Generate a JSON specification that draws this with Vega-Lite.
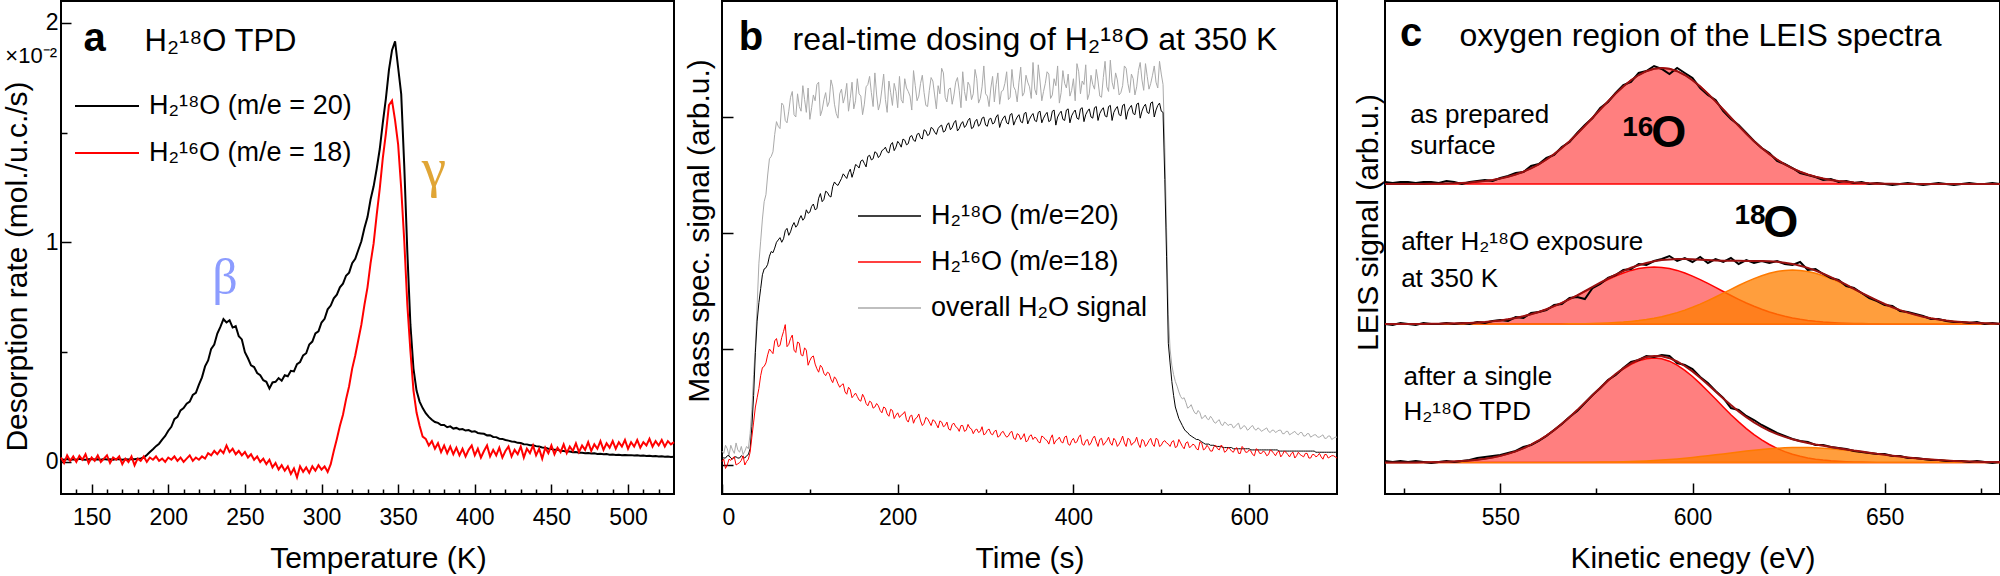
{
"$schema": "https://vega.github.io/schema/vega-lite/v6.json",
"background": "white",
"padding": 0,
"spacing": 48,
"bounds": "flush",
"config": {
  "font": "Liberation Sans",
  "view": {"stroke": "black", "strokeWidth": 2},
  "axis": {"labelFont": "Liberation Sans", "titleFont": "Liberation Sans", "labelFontSize": 23, "titleFontSize": 30, "titleFontWeight": "normal", "labelColor": "black", "titleColor": "black", "tickColor": "black", "tickWidth": 1.5, "domain": false, "grid": false, "labelOverlap": false},
  "legend": {"labelFont": "Liberation Sans", "labelColor": "black"},
  "text": {"font": "Liberation Sans", "color": "black"}
},
"resolve": {"scale": {"color": "independent"}, "legend": {"color": "independent"}},
"datasets": {
"tpd": [
{"T":130,"b":0.012,"r":0.020},{"T":132,"b":0.010,"r":-0.005},{"T":134,"b":0.013,"r":0.030},{"T":136,"b":0.009,"r":0.005},{"T":138,"b":0.012,"r":0.025},{"T":140,"b":0.010,"r":0.000},{"T":142,"b":0.014,"r":0.028},{"T":144,"b":0.011,"r":0.010},{"T":146,"b":0.010,"r":0.035},{"T":148,"b":0.012,"r":-0.005},
{"T":150,"b":0.013,"r":0.020},{"T":152,"b":0.011,"r":0.005},{"T":154,"b":0.012,"r":0.030},{"T":156,"b":0.010,"r":0.000},{"T":158,"b":0.013,"r":0.015},{"T":160,"b":0.011,"r":0.030},{"T":162,"b":0.012,"r":-0.005},{"T":164,"b":0.010,"r":0.020},{"T":166,"b":0.013,"r":0.010},{"T":168,"b":0.012,"r":0.025},
{"T":170,"b":0.010,"r":-0.010},{"T":172,"b":0.012,"r":0.015},{"T":174,"b":0.011,"r":0.000},{"T":176,"b":0.013,"r":0.025},{"T":178,"b":0.012,"r":-0.015},{"T":180,"b":0.014,"r":0.015},{"T":182,"b":0.016,"r":0.005},{"T":184,"b":0.020,"r":0.025},{"T":186,"b":0.032,"r":0.000},{"T":188,"b":0.045,"r":0.020},
{"T":190,"b":0.058,"r":0.010},{"T":192,"b":0.072,"r":0.025},{"T":194,"b":0.083,"r":0.005},{"T":196,"b":0.102,"r":0.015},{"T":198,"b":0.118,"r":0.000},{"T":200,"b":0.142,"r":0.020},{"T":202,"b":0.160,"r":0.010},{"T":204,"b":0.195,"r":0.025},{"T":206,"b":0.205,"r":0.005},{"T":208,"b":0.235,"r":0.020},
{"T":210,"b":0.245,"r":0.000},{"T":212,"b":0.265,"r":0.015},{"T":214,"b":0.275,"r":0.030},{"T":216,"b":0.305,"r":0.005},{"T":218,"b":0.315,"r":0.020},{"T":220,"b":0.352,"r":0.010},{"T":222,"b":0.385,"r":0.025},{"T":224,"b":0.435,"r":0.015},{"T":226,"b":0.462,"r":0.040},{"T":228,"b":0.515,"r":0.030},
{"T":230,"b":0.535,"r":0.050},{"T":232,"b":0.585,"r":0.035},{"T":234,"b":0.615,"r":0.055},{"T":236,"b":0.650,"r":0.040},{"T":238,"b":0.635,"r":0.075},{"T":240,"b":0.645,"r":0.045},{"T":242,"b":0.612,"r":0.060},{"T":244,"b":0.618,"r":0.035},{"T":246,"b":0.572,"r":0.050},{"T":248,"b":0.558,"r":0.030},
{"T":250,"b":0.500,"r":0.045},{"T":252,"b":0.472,"r":0.020},{"T":254,"b":0.440,"r":0.035},{"T":256,"b":0.432,"r":0.010},{"T":258,"b":0.405,"r":0.025},{"T":260,"b":0.395,"r":0.000},{"T":262,"b":0.372,"r":0.015},{"T":264,"b":0.365,"r":-0.010},{"T":266,"b":0.335,"r":0.010},{"T":268,"b":0.362,"r":-0.025},
{"T":270,"b":0.365,"r":-0.005},{"T":272,"b":0.382,"r":-0.035},{"T":274,"b":0.370,"r":-0.015},{"T":276,"b":0.395,"r":-0.040},{"T":278,"b":0.390,"r":-0.020},{"T":280,"b":0.415,"r":-0.055},{"T":282,"b":0.412,"r":-0.030},{"T":284,"b":0.445,"r":-0.070},{"T":286,"b":0.455,"r":-0.020},{"T":288,"b":0.485,"r":-0.045},
{"T":290,"b":0.495,"r":-0.025},{"T":292,"b":0.535,"r":-0.050},{"T":294,"b":0.548,"r":-0.020},{"T":296,"b":0.585,"r":-0.040},{"T":298,"b":0.595,"r":-0.015},{"T":300,"b":0.635,"r":-0.035},{"T":302,"b":0.652,"r":-0.020},{"T":304,"b":0.695,"r":-0.045},{"T":306,"b":0.712,"r":-0.010},{"T":308,"b":0.745,"r":0.050},
{"T":310,"b":0.762,"r":0.105},{"T":312,"b":0.795,"r":0.165},{"T":314,"b":0.812,"r":0.215},{"T":316,"b":0.848,"r":0.285},{"T":318,"b":0.862,"r":0.345},{"T":320,"b":0.905,"r":0.425},{"T":322,"b":0.925,"r":0.485},{"T":324,"b":0.965,"r":0.555},{"T":326,"b":1.005,"r":0.625},{"T":328,"b":1.065,"r":0.715},
{"T":330,"b":1.115,"r":0.795},{"T":332,"b":1.195,"r":0.905},{"T":334,"b":1.255,"r":0.995},{"T":336,"b":1.335,"r":1.125},{"T":338,"b":1.425,"r":1.245},{"T":340,"b":1.545,"r":1.385},{"T":342,"b":1.655,"r":1.495},{"T":344,"b":1.785,"r":1.625},{"T":346,"b":1.875,"r":1.645},{"T":348,"b":1.915,"r":1.555},
{"T":350,"b":1.795,"r":1.445},{"T":352,"b":1.675,"r":1.245},{"T":354,"b":1.345,"r":1.005},{"T":356,"b":0.955,"r":0.715},{"T":358,"b":0.625,"r":0.505},{"T":360,"b":0.425,"r":0.325},{"T":362,"b":0.325,"r":0.225},{"T":364,"b":0.275,"r":0.165},{"T":366,"b":0.245,"r":0.115},{"T":368,"b":0.222,"r":0.105},
{"T":370,"b":0.205,"r":0.075},{"T":372,"b":0.192,"r":0.095},{"T":374,"b":0.182,"r":0.060},{"T":376,"b":0.178,"r":0.085},{"T":378,"b":0.168,"r":0.045},{"T":380,"b":0.168,"r":0.075},{"T":382,"b":0.158,"r":0.040},{"T":384,"b":0.162,"r":0.070},{"T":386,"b":0.152,"r":0.035},{"T":388,"b":0.155,"r":0.065},
{"T":390,"b":0.148,"r":0.030},{"T":392,"b":0.150,"r":0.060},{"T":394,"b":0.143,"r":0.025},{"T":396,"b":0.145,"r":0.055},{"T":398,"b":0.138,"r":0.075},{"T":400,"b":0.140,"r":0.030},{"T":402,"b":0.132,"r":0.060},{"T":404,"b":0.130,"r":0.020},{"T":406,"b":0.128,"r":0.050},{"T":408,"b":0.121,"r":0.075},
{"T":410,"b":0.122,"r":0.025},{"T":412,"b":0.114,"r":0.055},{"T":414,"b":0.113,"r":0.030},{"T":416,"b":0.106,"r":0.065},{"T":418,"b":0.105,"r":0.020},{"T":420,"b":0.100,"r":0.050},{"T":422,"b":0.097,"r":0.070},{"T":424,"b":0.093,"r":0.025},{"T":426,"b":0.092,"r":0.055},{"T":428,"b":0.087,"r":0.035},
{"T":430,"b":0.086,"r":0.070},{"T":432,"b":0.081,"r":0.020},{"T":434,"b":0.080,"r":0.060},{"T":436,"b":0.076,"r":0.040},{"T":438,"b":0.076,"r":0.075},{"T":440,"b":0.072,"r":0.030},{"T":442,"b":0.070,"r":0.060},{"T":444,"b":0.066,"r":0.015},{"T":446,"b":0.065,"r":0.065},{"T":448,"b":0.060,"r":0.040},
{"T":450,"b":0.059,"r":0.075},{"T":452,"b":0.055,"r":0.035},{"T":454,"b":0.055,"r":0.065},{"T":456,"b":0.051,"r":0.045},{"T":458,"b":0.050,"r":0.080},{"T":460,"b":0.047,"r":0.040},{"T":462,"b":0.047,"r":0.070},{"T":464,"b":0.044,"r":0.050},{"T":466,"b":0.045,"r":0.085},{"T":468,"b":0.042,"r":0.045},
{"T":470,"b":0.042,"r":0.075},{"T":472,"b":0.040,"r":0.055},{"T":474,"b":0.041,"r":0.090},{"T":476,"b":0.038,"r":0.050},{"T":478,"b":0.039,"r":0.080},{"T":480,"b":0.036,"r":0.060},{"T":482,"b":0.037,"r":0.095},{"T":484,"b":0.035,"r":0.055},{"T":486,"b":0.036,"r":0.085},{"T":488,"b":0.033,"r":0.065},
{"T":490,"b":0.034,"r":0.095},{"T":492,"b":0.032,"r":0.060},{"T":494,"b":0.033,"r":0.090},{"T":496,"b":0.031,"r":0.070},{"T":498,"b":0.032,"r":0.100},{"T":500,"b":0.030,"r":0.060},{"T":502,"b":0.031,"r":0.090},{"T":504,"b":0.029,"r":0.070},{"T":506,"b":0.030,"r":0.100},{"T":508,"b":0.028,"r":0.065},
{"T":510,"b":0.029,"r":0.090},{"T":512,"b":0.027,"r":0.075},{"T":514,"b":0.028,"r":0.105},{"T":516,"b":0.026,"r":0.070},{"T":518,"b":0.027,"r":0.095},{"T":520,"b":0.025,"r":0.075},{"T":522,"b":0.026,"r":0.100},{"T":524,"b":0.024,"r":0.070},{"T":526,"b":0.025,"r":0.095},{"T":528,"b":0.023,"r":0.080},{"T":530,"b":0.024,"r":0.090}
],
"dose": [
{"t":0,"g":0.12,"k":0.07,"r":0.03},{"t":4,"g":0.17,"k":0.06,"r":-0.03},{"t":8,"g":0.08,"k":0.08,"r":0.05},{"t":12,"g":0.13,"k":0.05,"r":0.06},{"t":16,"g":0.19,"k":0.07,"r":0.00},{"t":20,"g":0.11,"k":0.06,"r":0.02},{"t":24,"g":0.09,"k":0.07,"r":0.08},{"t":28,"g":0.16,"k":0.08,"r":0.03},
{"t":32,"g":0.27,"k":0.14,"r":0.11},{"t":36,"g":0.78,"k":0.60,"r":0.37},{"t":40,"g":1.38,"k":1.24,"r":0.58},{"t":44,"g":1.93,"k":1.52,"r":0.77},{"t":48,"g":2.27,"k":1.69,"r":0.85},{"t":52,"g":2.50,"k":1.73,"r":0.95},{"t":56,"g":2.66,"k":1.84,"r":0.98},{"t":60,"g":2.85,"k":1.87,"r":1.07},
{"t":64,"g":2.92,"k":1.94,"r":1.02},{"t":68,"g":3.12,"k":1.92,"r":1.10},{"t":72,"g":2.97,"k":2.02,"r":1.21},{"t":76,"g":3.05,"k":1.98,"r":1.04},{"t":80,"g":3.22,"k":2.06,"r":1.12},{"t":84,"g":3.00,"k":2.05,"r":0.97},{"t":88,"g":3.09,"k":2.12,"r":1.05},{"t":92,"g":3.27,"k":2.11,"r":0.94},
{"t":96,"g":3.04,"k":2.20,"r":0.99},{"t":100,"g":2.98,"k":2.18,"r":0.90},{"t":104,"g":3.19,"k":2.25,"r":0.94},{"t":108,"g":3.28,"k":2.21,"r":0.83},{"t":112,"g":3.01,"k":2.34,"r":0.86},{"t":116,"g":3.15,"k":2.29,"r":0.79},{"t":120,"g":3.09,"k":2.35,"r":0.80},{"t":124,"g":3.32,"k":2.31,"r":0.74},
{"t":128,"g":3.11,"k":2.44,"r":0.76},{"t":132,"g":2.99,"k":2.41,"r":0.70},{"t":136,"g":3.24,"k":2.47,"r":0.69},{"t":140,"g":3.18,"k":2.49,"r":0.63},{"t":144,"g":3.05,"k":2.52,"r":0.67},{"t":148,"g":3.30,"k":2.48,"r":0.58},{"t":152,"g":3.14,"k":2.59,"r":0.62},{"t":156,"g":3.20,"k":2.56,"r":0.56},
{"t":160,"g":3.02,"k":2.63,"r":0.61},{"t":164,"g":3.26,"k":2.57,"r":0.53},{"t":168,"g":3.35,"k":2.67,"r":0.55},{"t":172,"g":3.09,"k":2.64,"r":0.49},{"t":176,"g":3.19,"k":2.69,"r":0.53},{"t":180,"g":3.12,"k":2.67,"r":0.47},{"t":184,"g":3.37,"k":2.72,"r":0.50},{"t":188,"g":3.04,"k":2.70,"r":0.44},
{"t":192,"g":3.21,"k":2.76,"r":0.48},{"t":196,"g":3.29,"k":2.71,"r":0.40},{"t":200,"g":3.08,"k":2.79,"r":0.45},{"t":204,"g":3.15,"k":2.74,"r":0.43},{"t":208,"g":3.33,"k":2.80,"r":0.46},{"t":212,"g":3.22,"k":2.77,"r":0.37},{"t":216,"g":3.06,"k":2.84,"r":0.43},{"t":220,"g":3.27,"k":2.79,"r":0.40},
{"t":224,"g":3.18,"k":2.86,"r":0.44},{"t":228,"g":3.36,"k":2.81,"r":0.34},{"t":232,"g":3.10,"k":2.88,"r":0.41},{"t":236,"g":3.23,"k":2.85,"r":0.37},{"t":240,"g":3.31,"k":2.90,"r":0.39},{"t":244,"g":3.07,"k":2.85,"r":0.35},{"t":248,"g":3.20,"k":2.92,"r":0.38},{"t":252,"g":3.38,"k":2.87,"r":0.33},
{"t":256,"g":3.13,"k":2.93,"r":0.37},{"t":260,"g":3.25,"k":2.89,"r":0.30},{"t":264,"g":3.19,"k":2.95,"r":0.36},{"t":268,"g":3.34,"k":2.88,"r":0.32},{"t":272,"g":3.08,"k":2.94,"r":0.34},{"t":276,"g":3.22,"k":2.91,"r":0.29},{"t":280,"g":3.30,"k":2.97,"r":0.35},{"t":284,"g":3.15,"k":2.90,"r":0.31},
{"t":288,"g":3.41,"k":2.96,"r":0.30},{"t":292,"g":3.12,"k":2.92,"r":0.28},{"t":296,"g":3.26,"k":2.99,"r":0.33},{"t":300,"g":3.20,"k":2.93,"r":0.27},{"t":304,"g":3.09,"k":2.98,"r":0.31},{"t":308,"g":3.35,"k":2.94,"r":0.26},{"t":312,"g":3.28,"k":3.00,"r":0.30},{"t":316,"g":3.11,"k":2.91,"r":0.25},
{"t":320,"g":3.23,"k":2.99,"r":0.29},{"t":324,"g":3.39,"k":2.95,"r":0.24},{"t":328,"g":3.17,"k":3.02,"r":0.28},{"t":332,"g":3.26,"k":2.93,"r":0.23},{"t":336,"g":3.13,"k":3.00,"r":0.27},{"t":340,"g":3.43,"k":2.96,"r":0.22},{"t":344,"g":3.21,"k":3.03,"r":0.27},{"t":348,"g":3.30,"k":2.94,"r":0.21},
{"t":352,"g":3.16,"k":3.01,"r":0.26},{"t":356,"g":3.24,"k":2.97,"r":0.24},{"t":360,"g":3.45,"k":3.04,"r":0.20},{"t":364,"g":3.14,"k":2.95,"r":0.25},{"t":368,"g":3.29,"k":3.02,"r":0.22},{"t":372,"g":3.37,"k":2.96,"r":0.18},{"t":376,"g":3.19,"k":3.05,"r":0.26},{"t":380,"g":3.27,"k":2.93,"r":0.21},
{"t":384,"g":3.12,"k":3.03,"r":0.24},{"t":388,"g":3.40,"k":2.98,"r":0.19},{"t":392,"g":3.25,"k":3.06,"r":0.25},{"t":396,"g":3.18,"k":2.95,"r":0.17},{"t":400,"g":3.33,"k":3.04,"r":0.23},{"t":404,"g":3.46,"k":2.99,"r":0.20},{"t":408,"g":3.20,"k":3.07,"r":0.26},{"t":412,"g":3.28,"k":2.96,"r":0.17},
{"t":416,"g":3.15,"k":3.05,"r":0.22},{"t":420,"g":3.36,"k":3.00,"r":0.19},{"t":424,"g":3.24,"k":3.08,"r":0.25},{"t":428,"g":3.31,"k":2.97,"r":0.16},{"t":432,"g":3.17,"k":3.06,"r":0.23},{"t":436,"g":3.48,"k":3.01,"r":0.19},{"t":440,"g":3.22,"k":3.09,"r":0.24},{"t":444,"g":3.30,"k":2.97,"r":0.17},
{"t":448,"g":3.38,"k":3.07,"r":0.21},{"t":452,"g":3.19,"k":3.02,"r":0.18},{"t":456,"g":3.27,"k":3.10,"r":0.25},{"t":460,"g":3.42,"k":2.98,"r":0.16},{"t":464,"g":3.21,"k":3.08,"r":0.22},{"t":468,"g":3.33,"k":3.03,"r":0.19},{"t":472,"g":3.26,"k":3.11,"r":0.24},{"t":476,"g":3.47,"k":2.99,"r":0.15},
{"t":480,"g":3.23,"k":3.09,"r":0.21},{"t":484,"g":3.35,"k":3.04,"r":0.18},{"t":488,"g":3.29,"k":3.12,"r":0.23},{"t":492,"g":3.44,"k":3.00,"r":0.16},{"t":496,"g":3.25,"k":3.10,"r":0.22},{"t":500,"g":3.37,"k":3.05,"r":0.17},{"t":504,"g":2.74,"k":2.46,"r":0.21},{"t":508,"g":1.30,"k":1.05,"r":0.18},
{"t":512,"g":0.86,"k":0.72,"r":0.20},{"t":516,"g":0.72,"k":0.50,"r":0.15},{"t":520,"g":0.63,"k":0.40,"r":0.22},{"t":524,"g":0.57,"k":0.34,"r":0.16},{"t":528,"g":0.54,"k":0.29,"r":0.19},{"t":532,"g":0.50,"k":0.26,"r":0.15},{"t":536,"g":0.48,"k":0.24,"r":0.18},{"t":540,"g":0.44,"k":0.22,"r":0.14},
{"t":544,"g":0.45,"k":0.21,"r":0.20},{"t":548,"g":0.41,"k":0.19,"r":0.13},{"t":552,"g":0.40,"k":0.18,"r":0.17},{"t":556,"g":0.42,"k":0.17,"r":0.12},{"t":560,"g":0.37,"k":0.17,"r":0.16},{"t":564,"g":0.38,"k":0.16,"r":0.14},{"t":568,"g":0.35,"k":0.16,"r":0.17},{"t":572,"g":0.37,"k":0.15,"r":0.11},
{"t":576,"g":0.34,"k":0.15,"r":0.15},{"t":580,"g":0.35,"k":0.15,"r":0.12},{"t":584,"g":0.33,"k":0.14,"r":0.14},{"t":588,"g":0.36,"k":0.14,"r":0.10},{"t":592,"g":0.32,"k":0.14,"r":0.16},{"t":596,"g":0.33,"k":0.14,"r":0.11},{"t":600,"g":0.31,"k":0.14,"r":0.13},{"t":604,"g":0.34,"k":0.13,"r":0.09},
{"t":608,"g":0.30,"k":0.13,"r":0.14},{"t":612,"g":0.31,"k":0.13,"r":0.10},{"t":616,"g":0.30,"k":0.13,"r":0.12},{"t":620,"g":0.32,"k":0.13,"r":0.08},{"t":624,"g":0.28,"k":0.13,"r":0.13},{"t":628,"g":0.30,"k":0.13,"r":0.10},{"t":632,"g":0.29,"k":0.13,"r":0.11},{"t":636,"g":0.30,"k":0.12,"r":0.07},
{"t":640,"g":0.27,"k":0.12,"r":0.12},{"t":644,"g":0.29,"k":0.12,"r":0.09},{"t":648,"g":0.27,"k":0.12,"r":0.10},{"t":652,"g":0.29,"k":0.12,"r":0.06},{"t":656,"g":0.26,"k":0.12,"r":0.11},{"t":660,"g":0.28,"k":0.12,"r":0.08},{"t":664,"g":0.25,"k":0.12,"r":0.10},{"t":668,"g":0.27,"k":0.12,"r":0.06},
{"t":672,"g":0.25,"k":0.12,"r":0.09},{"t":676,"g":0.26,"k":0.11,"r":0.07},{"t":680,"g":0.24,"k":0.11,"r":0.10},{"t":684,"g":0.26,"k":0.11,"r":0.05},{"t":688,"g":0.23,"k":0.11,"r":0.09},{"t":692,"g":0.25,"k":0.11,"r":0.07},{"t":696,"g":0.23,"k":0.11,"r":0.08},{"t":700,"g":0.24,"k":0.11,"r":0.06},
{"t":2,"g":0.10,"k":0.06,"r":0.05},{"t":6,"g":0.14,"k":0.08,"r":0.00},{"t":10,"g":0.17,"k":0.06,"r":0.04},{"t":14,"g":0.10,"k":0.07,"r":0.07},{"t":18,"g":0.13,"k":0.06,"r":0.01},{"t":22,"g":0.16,"k":0.08,"r":0.04},{"t":26,"g":0.12,"k":0.06,"r":0.00},{"t":30,"g":0.14,"k":0.09,"r":0.05},
{"t":34,"g":0.48,"k":0.33,"r":0.24},{"t":38,"g":1.02,"k":0.97,"r":0.50},{"t":42,"g":1.74,"k":1.40,"r":0.66},{"t":46,"g":2.12,"k":1.64,"r":0.84},{"t":50,"g":2.33,"k":1.70,"r":0.88},{"t":54,"g":2.64,"k":1.80,"r":1.00},{"t":58,"g":2.70,"k":1.83,"r":0.96},{"t":62,"g":2.96,"k":1.92,"r":1.09},
{"t":66,"g":2.90,"k":1.96,"r":1.03},{"t":70,"g":3.10,"k":1.95,"r":1.15},{"t":74,"g":2.95,"k":2.04,"r":1.02},{"t":78,"g":3.17,"k":2.01,"r":1.09},{"t":82,"g":3.02,"k":2.09,"r":0.99},{"t":86,"g":3.20,"k":2.07,"r":1.06},{"t":90,"g":3.05,"k":2.15,"r":0.95},{"t":94,"g":3.15,"k":2.13,"r":1.01},
{"t":98,"g":3.25,"k":2.17,"r":0.86},{"t":102,"g":3.08,"k":2.23,"r":0.93},{"t":106,"g":3.14,"k":2.20,"r":0.87},{"t":110,"g":3.30,"k":2.30,"r":0.80},{"t":114,"g":3.06,"k":2.27,"r":0.84},{"t":118,"g":3.21,"k":2.36,"r":0.77},{"t":122,"g":3.13,"k":2.32,"r":0.79},{"t":126,"g":3.26,"k":2.40,"r":0.71},
{"t":130,"g":3.03,"k":2.42,"r":0.74},{"t":134,"g":3.20,"k":2.44,"r":0.67},{"t":138,"g":3.12,"k":2.51,"r":0.70},{"t":142,"g":3.29,"k":2.47,"r":0.61},{"t":146,"g":3.16,"k":2.55,"r":0.65},{"t":150,"g":3.07,"k":2.53,"r":0.60},{"t":154,"g":3.33,"k":2.58,"r":0.59},{"t":158,"g":3.18,"k":2.62,"r":0.55},
{"t":162,"g":3.11,"k":2.60,"r":0.58},{"t":166,"g":3.28,"k":2.66,"r":0.51},{"t":170,"g":3.21,"k":2.63,"r":0.54},{"t":174,"g":3.38,"k":2.70,"r":0.50},{"t":178,"g":3.06,"k":2.65,"r":0.51},{"t":182,"g":3.24,"k":2.71,"r":0.45},{"t":186,"g":3.15,"k":2.74,"r":0.49},{"t":190,"g":3.31,"k":2.69,"r":0.42},
{"t":194,"g":3.10,"k":2.78,"r":0.47},{"t":198,"g":3.22,"k":2.74,"r":0.43},{"t":202,"g":3.35,"k":2.77,"r":0.41},{"t":206,"g":3.12,"k":2.81,"r":0.44},{"t":210,"g":3.25,"k":2.76,"r":0.39},{"t":214,"g":3.18,"k":2.83,"r":0.42},{"t":218,"g":3.40,"k":2.80,"r":0.36},{"t":222,"g":3.14,"k":2.85,"r":0.41},
{"t":226,"g":3.29,"k":2.82,"r":0.38},{"t":230,"g":3.21,"k":2.89,"r":0.36},{"t":234,"g":3.09,"k":2.84,"r":0.40},{"t":238,"g":3.34,"k":2.91,"r":0.34},{"t":242,"g":3.19,"k":2.87,"r":0.38},{"t":246,"g":3.27,"k":2.90,"r":0.32},{"t":250,"g":3.42,"k":2.93,"r":0.37},{"t":254,"g":3.17,"k":2.88,"r":0.34},
{"t":258,"g":3.24,"k":2.95,"r":0.31},{"t":262,"g":3.11,"k":2.91,"r":0.35},{"t":266,"g":3.30,"k":2.97,"r":0.33},{"t":270,"g":3.23,"k":2.90,"r":0.29},{"t":274,"g":3.39,"k":2.96,"r":0.34},{"t":278,"g":3.14,"k":2.93,"r":0.30},{"t":282,"g":3.27,"k":2.99,"r":0.32},{"t":286,"g":3.20,"k":2.91,"r":0.27},
{"t":290,"g":3.33,"k":2.98,"r":0.31},{"t":294,"g":3.16,"k":2.94,"r":0.29},{"t":298,"g":3.44,"k":3.00,"r":0.26},{"t":302,"g":3.18,"k":2.92,"r":0.30},{"t":306,"g":3.25,"k":2.99,"r":0.27},{"t":310,"g":3.13,"k":2.95,"r":0.29},{"t":314,"g":3.38,"k":3.02,"r":0.24},{"t":318,"g":3.22,"k":2.96,"r":0.28},
{"t":322,"g":3.29,"k":3.01,"r":0.26},{"t":326,"g":3.15,"k":2.94,"r":0.25},{"t":330,"g":3.41,"k":3.03,"r":0.29},{"t":334,"g":3.23,"k":2.97,"r":0.22},{"t":338,"g":3.30,"k":3.02,"r":0.26},{"t":342,"g":3.18,"k":2.95,"r":0.24},{"t":346,"g":3.36,"k":3.04,"r":0.20},{"t":350,"g":3.26,"k":2.98,"r":0.25},
{"t":354,"g":3.47,"k":3.03,"r":0.22},{"t":358,"g":3.19,"k":2.96,"r":0.23},{"t":362,"g":3.31,"k":3.05,"r":0.19},{"t":366,"g":3.22,"k":2.99,"r":0.24},{"t":370,"g":3.39,"k":3.04,"r":0.21},{"t":374,"g":3.16,"k":2.97,"r":0.23},{"t":378,"g":3.33,"k":3.06,"r":0.18},{"t":382,"g":3.44,"k":3.00,"r":0.22},
{"t":386,"g":3.21,"k":3.05,"r":0.20},{"t":390,"g":3.29,"k":2.97,"r":0.24},{"t":394,"g":3.37,"k":3.07,"r":0.18},{"t":398,"g":3.23,"k":3.01,"r":0.21},{"t":402,"g":3.14,"k":3.06,"r":0.19},{"t":406,"g":3.39,"k":2.98,"r":0.24},{"t":410,"g":3.31,"k":3.08,"r":0.18},{"t":414,"g":3.45,"k":3.02,"r":0.21},
{"t":418,"g":3.20,"k":3.07,"r":0.17},{"t":422,"g":3.28,"k":2.99,"r":0.23},{"t":426,"g":3.41,"k":3.09,"r":0.20},{"t":430,"g":3.18,"k":3.03,"r":0.22},{"t":434,"g":3.34,"k":3.08,"r":0.17},{"t":438,"g":3.26,"k":3.00,"r":0.21},{"t":442,"g":3.49,"k":3.10,"r":0.19},{"t":446,"g":3.24,"k":3.04,"r":0.23},
{"t":450,"g":3.32,"k":3.09,"r":0.16},{"t":454,"g":3.21,"k":3.01,"r":0.21},{"t":458,"g":3.44,"k":3.11,"r":0.19},{"t":462,"g":3.29,"k":3.05,"r":0.23},{"t":466,"g":3.37,"k":3.10,"r":0.17},{"t":470,"g":3.19,"k":3.02,"r":0.20},{"t":474,"g":3.40,"k":3.12,"r":0.18},{"t":478,"g":3.32,"k":3.05,"r":0.22},
{"t":482,"g":3.46,"k":3.11,"r":0.16},{"t":486,"g":3.24,"k":3.03,"r":0.21},{"t":490,"g":3.36,"k":3.13,"r":0.18},{"t":494,"g":3.30,"k":3.06,"r":0.23},{"t":498,"g":3.48,"k":3.12,"r":0.16},{"t":502,"g":3.28,"k":3.04,"r":0.20},{"t":506,"g":2.05,"k":1.80,"r":0.19},{"t":510,"g":1.00,"k":0.88,"r":0.16},
{"t":514,"g":0.78,"k":0.60,"r":0.21},{"t":518,"g":0.68,"k":0.45,"r":0.16},{"t":522,"g":0.59,"k":0.37,"r":0.19},{"t":526,"g":0.58,"k":0.31,"r":0.14},{"t":530,"g":0.49,"k":0.28,"r":0.20},{"t":534,"g":0.52,"k":0.25,"r":0.16},{"t":538,"g":0.45,"k":0.23,"r":0.17},{"t":542,"g":0.47,"k":0.22,"r":0.13},
{"t":546,"g":0.40,"k":0.20,"r":0.19},{"t":550,"g":0.43,"k":0.18,"r":0.14},{"t":554,"g":0.39,"k":0.18,"r":0.15},{"t":558,"g":0.40,"k":0.17,"r":0.12},{"t":562,"g":0.36,"k":0.16,"r":0.17},{"t":566,"g":0.39,"k":0.16,"r":0.13},{"t":570,"g":0.34,"k":0.15,"r":0.16},{"t":574,"g":0.36,"k":0.15,"r":0.12},
{"t":578,"g":0.35,"k":0.15,"r":0.14},{"t":582,"g":0.32,"k":0.14,"r":0.11},{"t":586,"g":0.35,"k":0.14,"r":0.15},{"t":590,"g":0.31,"k":0.14,"r":0.10},{"t":594,"g":0.34,"k":0.14,"r":0.14},{"t":598,"g":0.30,"k":0.14,"r":0.11},{"t":602,"g":0.33,"k":0.13,"r":0.12},{"t":606,"g":0.31,"k":0.13,"r":0.08},
{"t":610,"g":0.32,"k":0.13,"r":0.13},{"t":614,"g":0.29,"k":0.13,"r":0.10},{"t":618,"g":0.31,"k":0.13,"r":0.11},{"t":622,"g":0.29,"k":0.13,"r":0.09},{"t":626,"g":0.30,"k":0.13,"r":0.12},{"t":630,"g":0.28,"k":0.13,"r":0.08},{"t":634,"g":0.30,"k":0.12,"r":0.12},{"t":638,"g":0.27,"k":0.12,"r":0.09},
{"t":642,"g":0.29,"k":0.12,"r":0.11},{"t":646,"g":0.26,"k":0.12,"r":0.07},{"t":650,"g":0.28,"k":0.12,"r":0.11},{"t":654,"g":0.27,"k":0.12,"r":0.08},{"t":658,"g":0.28,"k":0.12,"r":0.09},{"t":662,"g":0.25,"k":0.12,"r":0.07},{"t":666,"g":0.27,"k":0.12,"r":0.10},{"t":670,"g":0.24,"k":0.12,"r":0.06},
{"t":674,"g":0.26,"k":0.12,"r":0.09},{"t":678,"g":0.24,"k":0.11,"r":0.08},{"t":682,"g":0.25,"k":0.11,"r":0.07},{"t":686,"g":0.23,"k":0.11,"r":0.09},{"t":690,"g":0.25,"k":0.11,"r":0.06},{"t":694,"g":0.22,"k":0.11,"r":0.08},{"t":698,"g":0.24,"k":0.11,"r":0.07}
],
"leis": [
{"E":520,"d1":3.12,"f1":3.1,"d2":1.70,"f2":1.7,"r2":1.7,"o2":1.7,"d3":0.33,"f3":0.315,"r3":0.315,"o3":0.315},
{"E":522,"d1":3.11,"f1":3.1,"d2":1.69,"f2":1.7,"r2":1.7,"o2":1.7,"d3":0.32,"f3":0.315,"r3":0.315,"o3":0.315},
{"E":524,"d1":3.12,"f1":3.1,"d2":1.71,"f2":1.7,"r2":1.7,"o2":1.7,"d3":0.33,"f3":0.315,"r3":0.315,"o3":0.315},
{"E":526,"d1":3.12,"f1":3.1,"d2":1.70,"f2":1.7,"r2":1.7,"o2":1.7,"d3":0.32,"f3":0.315,"r3":0.315,"o3":0.315},
{"E":528,"d1":3.11,"f1":3.1,"d2":1.69,"f2":1.701,"r2":1.701,"o2":1.7,"d3":0.33,"f3":0.316,"r3":0.316,"o3":0.315},
{"E":530,"d1":3.12,"f1":3.1,"d2":1.71,"f2":1.701,"r2":1.701,"o2":1.7,"d3":0.32,"f3":0.317,"r3":0.317,"o3":0.315},
{"E":532,"d1":3.12,"f1":3.102,"d2":1.70,"f2":1.702,"r2":1.702,"o2":1.7,"d3":0.31,"f3":0.318,"r3":0.318,"o3":0.315},
{"E":534,"d1":3.11,"f1":3.103,"d2":1.70,"f2":1.703,"r2":1.703,"o2":1.7,"d3":0.32,"f3":0.32,"r3":0.32,"o3":0.315},
{"E":536,"d1":3.13,"f1":3.105,"d2":1.71,"f2":1.704,"r2":1.704,"o2":1.7,"d3":0.33,"f3":0.322,"r3":0.322,"o3":0.315},
{"E":538,"d1":3.12,"f1":3.107,"d2":1.70,"f2":1.705,"r2":1.705,"o2":1.7,"d3":0.32,"f3":0.325,"r3":0.325,"o3":0.315},
{"E":540,"d1":3.10,"f1":3.111,"d2":1.71,"f2":1.708,"r2":1.708,"o2":1.7,"d3":0.33,"f3":0.329,"r3":0.329,"o3":0.315},
{"E":542,"d1":3.12,"f1":3.115,"d2":1.70,"f2":1.711,"r2":1.711,"o2":1.7,"d3":0.34,"f3":0.334,"r3":0.334,"o3":0.315},
{"E":544,"d1":3.13,"f1":3.122,"d2":1.72,"f2":1.715,"r2":1.715,"o2":1.7,"d3":0.36,"f3":0.342,"r3":0.342,"o3":0.315},
{"E":546,"d1":3.14,"f1":3.13,"d2":1.71,"f2":1.72,"r2":1.72,"o2":1.7,"d3":0.37,"f3":0.352,"r3":0.352,"o3":0.315},
{"E":548,"d1":3.13,"f1":3.141,"d2":1.73,"f2":1.727,"r2":1.727,"o2":1.7,"d3":0.38,"f3":0.364,"r3":0.364,"o3":0.315},
{"E":550,"d1":3.16,"f1":3.155,"d2":1.74,"f2":1.736,"r2":1.736,"o2":1.7,"d3":0.39,"f3":0.381,"r3":0.381,"o3":0.315},
{"E":552,"d1":3.18,"f1":3.173,"d2":1.73,"f2":1.747,"r2":1.747,"o2":1.7,"d3":0.41,"f3":0.401,"r3":0.401,"o3":0.315},
{"E":554,"d1":3.21,"f1":3.195,"d2":1.77,"f2":1.761,"r2":1.761,"o2":1.7,"d3":0.43,"f3":0.426,"r3":0.426,"o3":0.315},
{"E":556,"d1":3.22,"f1":3.223,"d2":1.76,"f2":1.777,"r2":1.777,"o2":1.7,"d3":0.47,"f3":0.456,"r3":0.456,"o3":0.315},
{"E":558,"d1":3.28,"f1":3.257,"d2":1.81,"f2":1.797,"r2":1.797,"o2":1.7,"d3":0.49,"f3":0.493,"r3":0.493,"o3":0.315},
{"E":560,"d1":3.30,"f1":3.297,"d2":1.82,"f2":1.82,"r2":1.82,"o2":1.7,"d3":0.53,"f3":0.535,"r3":0.535,"o3":0.315},
{"E":562,"d1":3.36,"f1":3.345,"d2":1.84,"f2":1.847,"r2":1.847,"o2":1.7,"d3":0.58,"f3":0.584,"r3":0.584,"o3":0.315},
{"E":564,"d1":3.39,"f1":3.399,"d2":1.89,"f2":1.878,"r2":1.877,"o2":1.701,"d3":0.64,"f3":0.639,"r3":0.639,"o3":0.315},
{"E":566,"d1":3.47,"f1":3.46,"d2":1.90,"f2":1.911,"r2":1.91,"o2":1.701,"d3":0.70,"f3":0.702,"r3":0.701,"o3":0.316},
{"E":568,"d1":3.52,"f1":3.528,"d2":1.96,"f2":1.949,"r2":1.947,"o2":1.702,"d3":0.77,"f3":0.768,"r3":0.767,"o3":0.316},
{"E":570,"d1":3.61,"f1":3.602,"d2":1.97,"f2":1.987,"r2":1.985,"o2":1.702,"d3":0.83,"f3":0.839,"r3":0.838,"o3":0.316},
{"E":572,"d1":3.69,"f1":3.681,"d2":1.95,"f2":2.028,"r2":2.025,"o2":1.703,"d3":0.91,"f3":0.914,"r3":0.912,"o3":0.317},
{"E":574,"d1":3.76,"f1":3.762,"d2":2.06,"f2":2.071,"r2":2.066,"o2":1.705,"d3":0.99,"f3":0.989,"r3":0.986,"o3":0.318},
{"E":576,"d1":3.86,"f1":3.845,"d2":2.10,"f2":2.113,"r2":2.106,"o2":1.707,"d3":1.06,"f3":1.063,"r3":1.059,"o3":0.319},
{"E":578,"d1":3.92,"f1":3.926,"d2":2.16,"f2":2.154,"r2":2.144,"o2":1.71,"d3":1.14,"f3":1.135,"r3":1.13,"o3":0.32},
{"E":580,"d1":4.01,"f1":4.004,"d2":2.19,"f2":2.193,"r2":2.179,"o2":1.714,"d3":1.19,"f3":1.2,"r3":1.194,"o3":0.321},
{"E":582,"d1":4.09,"f1":4.076,"d2":2.24,"f2":2.229,"r2":2.21,"o2":1.719,"d3":1.26,"f3":1.258,"r3":1.25,"o3":0.323},
{"E":584,"d1":4.12,"f1":4.138,"d2":2.25,"f2":2.262,"r2":2.236,"o2":1.726,"d3":1.32,"f3":1.307,"r3":1.297,"o3":0.325},
{"E":586,"d1":4.21,"f1":4.19,"d2":2.30,"f2":2.288,"r2":2.254,"o2":1.734,"d3":1.34,"f3":1.344,"r3":1.331,"o3":0.328},
{"E":588,"d1":4.23,"f1":4.228,"d2":2.29,"f2":2.31,"r2":2.266,"o2":1.744,"d3":1.38,"f3":1.369,"r3":1.353,"o3":0.331},
{"E":590,"d1":4.28,"f1":4.252,"d2":2.33,"f2":2.327,"r2":2.27,"o2":1.757,"d3":1.37,"f3":1.38,"r3":1.36,"o3":0.335},
{"E":592,"d1":4.25,"f1":4.26,"d2":2.35,"f2":2.339,"r2":2.266,"o2":1.773,"d3":1.39,"f3":1.377,"r3":1.352,"o3":0.34},
{"E":594,"d1":4.20,"f1":4.252,"d2":2.38,"f2":2.346,"r2":2.254,"o2":1.792,"d3":1.38,"f3":1.358,"r3":1.328,"o3":0.345},
{"E":596,"d1":4.26,"f1":4.228,"d2":2.33,"f2":2.35,"r2":2.236,"o2":1.814,"d3":1.31,"f3":1.325,"r3":1.289,"o3":0.351},
{"E":598,"d1":4.21,"f1":4.19,"d2":2.36,"f2":2.349,"r2":2.21,"o2":1.839,"d3":1.29,"f3":1.28,"r3":1.237,"o3":0.358},
{"E":600,"d1":4.16,"f1":4.138,"d2":2.32,"f2":2.347,"r2":2.179,"o2":1.868,"d3":1.25,"f3":1.226,"r3":1.175,"o3":0.366},
{"E":602,"d1":4.06,"f1":4.076,"d2":2.37,"f2":2.343,"r2":2.144,"o2":1.899,"d3":1.17,"f3":1.163,"r3":1.104,"o3":0.374},
{"E":604,"d1":3.99,"f1":4.004,"d2":2.31,"f2":2.34,"r2":2.106,"o2":1.934,"d3":1.11,"f3":1.096,"r3":1.028,"o3":0.383},
{"E":606,"d1":3.94,"f1":3.926,"d2":2.35,"f2":2.336,"r2":2.066,"o2":1.97,"d3":1.03,"f3":1.026,"r3":0.949,"o3":0.392},
{"E":608,"d1":3.83,"f1":3.845,"d2":2.32,"f2":2.333,"r2":2.025,"o2":2.008,"d3":0.96,"f3":0.956,"r3":0.87,"o3":0.401},
{"E":610,"d1":3.75,"f1":3.762,"d2":2.36,"f2":2.332,"r2":1.985,"o2":2.047,"d3":0.86,"f3":0.889,"r3":0.793,"o3":0.411},
{"E":612,"d1":3.69,"f1":3.681,"d2":2.30,"f2":2.332,"r2":1.947,"o2":2.085,"d3":0.84,"f3":0.826,"r3":0.721,"o3":0.42},
{"E":614,"d1":3.61,"f1":3.602,"d2":2.34,"f2":2.331,"r2":1.91,"o2":2.121,"d3":0.78,"f3":0.768,"r3":0.654,"o3":0.429},
{"E":616,"d1":3.53,"f1":3.528,"d2":2.31,"f2":2.331,"r2":1.877,"o2":2.154,"d3":0.74,"f3":0.717,"r3":0.594,"o3":0.438},
{"E":618,"d1":3.46,"f1":3.46,"d2":2.33,"f2":2.33,"r2":1.847,"o2":2.183,"d3":0.69,"f3":0.672,"r3":0.541,"o3":0.446},
{"E":620,"d1":3.41,"f1":3.399,"d2":2.31,"f2":2.327,"r2":1.82,"o2":2.207,"d3":0.65,"f3":0.632,"r3":0.495,"o3":0.452},
{"E":622,"d1":3.33,"f1":3.345,"d2":2.33,"f2":2.322,"r2":1.797,"o2":2.225,"d3":0.61,"f3":0.599,"r3":0.456,"o3":0.458},
{"E":624,"d1":3.30,"f1":3.297,"d2":2.30,"f2":2.313,"r2":1.777,"o2":2.236,"d3":0.58,"f3":0.571,"r3":0.424,"o3":0.462},
{"E":626,"d1":3.26,"f1":3.257,"d2":2.29,"f2":2.301,"r2":1.761,"o2":2.24,"d3":0.55,"f3":0.547,"r3":0.398,"o3":0.464},
{"E":628,"d1":3.21,"f1":3.223,"d2":2.32,"f2":2.283,"r2":1.747,"o2":2.236,"d3":0.53,"f3":0.527,"r3":0.377,"o3":0.465},
{"E":630,"d1":3.19,"f1":3.195,"d2":2.24,"f2":2.261,"r2":1.736,"o2":2.225,"d3":0.52,"f3":0.51,"r3":0.361,"o3":0.464},
{"E":632,"d1":3.17,"f1":3.173,"d2":2.25,"f2":2.234,"r2":1.727,"o2":2.207,"d3":0.49,"f3":0.495,"r3":0.348,"o3":0.462},
{"E":634,"d1":3.14,"f1":3.155,"d2":2.20,"f2":2.203,"r2":1.72,"o2":2.183,"d3":0.49,"f3":0.482,"r3":0.339,"o3":0.458},
{"E":636,"d1":3.15,"f1":3.141,"d2":2.16,"f2":2.169,"r2":1.715,"o2":2.154,"d3":0.47,"f3":0.469,"r3":0.332,"o3":0.452},
{"E":638,"d1":3.12,"f1":3.13,"d2":2.14,"f2":2.132,"r2":1.711,"o2":2.121,"d3":0.46,"f3":0.458,"r3":0.327,"o3":0.446},
{"E":640,"d1":3.13,"f1":3.122,"d2":2.08,"f2":2.093,"r2":1.708,"o2":2.085,"d3":0.45,"f3":0.446,"r3":0.323,"o3":0.438},
{"E":642,"d1":3.11,"f1":3.115,"d2":2.06,"f2":2.052,"r2":1.705,"o2":2.047,"d3":0.43,"f3":0.434,"r3":0.32,"o3":0.429},
{"E":644,"d1":3.12,"f1":3.111,"d2":2.01,"f2":2.012,"r2":1.704,"o2":2.008,"d3":0.42,"f3":0.424,"r3":0.319,"o3":0.42},
{"E":646,"d1":3.10,"f1":3.107,"d2":1.96,"f2":1.973,"r2":1.703,"o2":1.97,"d3":0.41,"f3":0.413,"r3":0.317,"o3":0.411},
{"E":648,"d1":3.11,"f1":3.105,"d2":1.93,"f2":1.936,"r2":1.702,"o2":1.934,"d3":0.40,"f3":0.402,"r3":0.316,"o3":0.401},
{"E":650,"d1":3.10,"f1":3.103,"d2":1.89,"f2":1.9,"r2":1.701,"o2":1.899,"d3":0.40,"f3":0.393,"r3":0.316,"o3":0.392},
{"E":652,"d1":3.09,"f1":3.102,"d2":1.88,"f2":1.868,"r2":1.7,"o2":1.868,"d3":0.38,"f3":0.383,"r3":0.315,"o3":0.383},
{"E":654,"d1":3.10,"f1":3.1,"d2":1.83,"f2":1.839,"r2":1.7,"o2":1.839,"d3":0.38,"f3":0.374,"r3":0.315,"o3":0.374},
{"E":656,"d1":3.11,"f1":3.1,"d2":1.82,"f2":1.814,"r2":1.7,"o2":1.814,"d3":0.36,"f3":0.366,"r3":0.315,"o3":0.366},
{"E":658,"d1":3.10,"f1":3.1,"d2":1.80,"f2":1.792,"r2":1.7,"o2":1.792,"d3":0.36,"f3":0.358,"r3":0.315,"o3":0.358},
{"E":660,"d1":3.09,"f1":3.1,"d2":1.78,"f2":1.773,"r2":1.7,"o2":1.773,"d3":0.35,"f3":0.351,"r3":0.315,"o3":0.351},
{"E":662,"d1":3.10,"f1":3.1,"d2":1.75,"f2":1.757,"r2":1.7,"o2":1.757,"d3":0.34,"f3":0.345,"r3":0.315,"o3":0.345},
{"E":664,"d1":3.11,"f1":3.1,"d2":1.75,"f2":1.744,"r2":1.7,"o2":1.744,"d3":0.34,"f3":0.34,"r3":0.315,"o3":0.34},
{"E":666,"d1":3.10,"f1":3.1,"d2":1.73,"f2":1.734,"r2":1.7,"o2":1.734,"d3":0.33,"f3":0.335,"r3":0.315,"o3":0.335},
{"E":668,"d1":3.09,"f1":3.1,"d2":1.72,"f2":1.726,"r2":1.7,"o2":1.726,"d3":0.33,"f3":0.331,"r3":0.315,"o3":0.331},
{"E":670,"d1":3.10,"f1":3.1,"d2":1.72,"f2":1.719,"r2":1.7,"o2":1.719,"d3":0.33,"f3":0.328,"r3":0.315,"o3":0.328},
{"E":672,"d1":3.11,"f1":3.1,"d2":1.71,"f2":1.714,"r2":1.7,"o2":1.714,"d3":0.32,"f3":0.325,"r3":0.315,"o3":0.325},
{"E":674,"d1":3.10,"f1":3.1,"d2":1.72,"f2":1.71,"r2":1.7,"o2":1.71,"d3":0.33,"f3":0.323,"r3":0.315,"o3":0.323},
{"E":676,"d1":3.10,"f1":3.1,"d2":1.70,"f2":1.707,"r2":1.7,"o2":1.707,"d3":0.32,"f3":0.321,"r3":0.315,"o3":0.321},
{"E":678,"d1":3.11,"f1":3.1,"d2":1.71,"f2":1.705,"r2":1.7,"o2":1.705,"d3":0.31,"f3":0.32,"r3":0.315,"o3":0.32},
{"E":680,"d1":3.10,"f1":3.1,"d2":1.70,"f2":1.703,"r2":1.7,"o2":1.703,"d3":0.32,"f3":0.319,"r3":0.315,"o3":0.319}
]
},
"hconcat": [
{
  "width": 613, "height": 493,
  "data": {"name": "tpd"},
  "resolve": {"axis": {"x": "independent", "y": "independent"}},
  "layer": [
    {"mark": {"type": "line", "strokeWidth": 2},
     "encoding": {
       "x": {"field": "T", "type": "quantitative", "scale": {"domain": [130, 530], "nice": false, "zero": false},
             "axis": {"orient": "bottom", "ticks": false, "values": [150,200,250,300,350,400,450,500], "labelExpr": "'' + datum.value",
                      "labelPadding": 12, "title": "Temperature (K)", "titleX": 317, "titleY": 73, "titleBaseline": "alphabetic"}},
       "y": {"field": "b", "type": "quantitative", "scale": {"domain": [-0.146, 2.099], "nice": false, "zero": false},
             "axis": {"orient": "left", "ticks": false, "values": [0, 1, 2], "labelExpr": "'' + datum.value",
                      "labelPadding": 3, "title": "Desorption rate (mol./u.c./s)", "titleAngle": 270, "titleX": -35, "titleY": 265, "titleBaseline": "alphabetic"}},
       "color": {"datum": "H₂¹⁸O (m/e = 20)", "type": "nominal",
                 "scale": {"domain": ["H₂¹⁸O (m/e = 20)", "H₂¹⁶O (m/e = 18)"], "range": ["#000000", "#ff0000"]},
                 "legend": {"orient": "none", "legendX": 13, "legendY": 92, "title": null, "direction": "vertical", "symbolType": "stroke", "symbolSize": 4096, "symbolStrokeWidth": 2, "labelFontSize": 27, "labelOffset": 9, "clipHeight": 26, "rowPadding": 20, "labelLimit": 500, "padding": 0}}
     }},
    {"mark": {"type": "line", "strokeWidth": 2},
     "encoding": {
       "x": {"field": "T", "type": "quantitative", "axis": null},
       "y": {"field": "r", "type": "quantitative", "axis": null},
       "color": {"datum": "H₂¹⁶O (m/e = 18)", "type": "nominal"}
     }},
    {"mark": {"type": "line", "opacity": 0},
     "encoding": {
       "x": {"field": "T", "type": "quantitative", "axis": {"orient": "top", "offset": -493, "labels": false, "title": null, "tickSize": 10, "values": [150,200,250,300,350,400,450,500]}},
       "y": {"field": "b", "type": "quantitative", "axis": {"orient": "left", "offset": -10, "labels": false, "title": null, "tickSize": 10, "values": [0, 1, 2]}}
     }},
    {"mark": {"type": "line", "opacity": 0},
     "encoding": {
       "x": {"field": "T", "type": "quantitative", "axis": {"orient": "top", "offset": -493, "labels": false, "title": null, "tickSize": 5, "values": [140,160,170,180,190,210,220,230,240,260,270,280,290,310,320,330,340,360,370,380,390,410,420,430,440,460,470,480,490,510,520]}},
       "y": {"field": "b", "type": "quantitative", "axis": {"orient": "left", "offset": -6, "labels": false, "title": null, "tickSize": 6, "values": [0.5, 1.5]}}
     }},
    {"data": {"values": [{}]}, "mark": {"type": "text", "text": "a", "fontSize": 40, "fontWeight": "bold", "align": "left", "baseline": "alphabetic"},
     "encoding": {"x": {"datum": 144.7, "axis": null}, "y": {"datum": 1.872, "axis": null}}},
    {"data": {"values": [{}]}, "mark": {"type": "text", "text": "H₂¹⁸O TPD", "fontSize": 31, "align": "left", "baseline": "alphabetic"},
     "encoding": {"x": {"datum": 184.5, "axis": null}, "y": {"datum": 1.872, "axis": null}}},
    {"data": {"values": [{}]}, "mark": {"type": "text", "text": "×10⁻²", "fontSize": 22, "align": "right", "baseline": "alphabetic", "dx": -4},
     "encoding": {"x": {"datum": 130, "axis": null}, "y": {"datum": 1.816, "axis": null}}},
    {"data": {"values": [{}]}, "mark": {"type": "text", "text": "β", "font": "Liberation Serif", "fontSize": 50, "color": "#8c9cff", "align": "center", "baseline": "alphabetic"},
     "encoding": {"x": {"datum": 237, "axis": null}, "y": {"datum": 0.765, "axis": null}}},
    {"data": {"values": [{}]}, "mark": {"type": "text", "text": "γ", "font": "Liberation Serif", "fontSize": 55, "color": "#e0a535", "align": "center", "baseline": "alphabetic"},
     "encoding": {"x": {"datum": 373.3, "axis": null}, "y": {"datum": 1.257, "axis": null}}}
  ]
},
{
  "width": 615, "height": 493,
  "data": {"name": "dose"},
  "resolve": {"axis": {"x": "independent", "y": "independent"}},
  "layer": [
    {"mark": {"type": "line", "strokeWidth": 1},
     "encoding": {
       "x": {"field": "t", "type": "quantitative", "scale": {"domain": [0, 700], "nice": false, "zero": false},
             "axis": {"orient": "bottom", "ticks": false, "values": [0,200,400,600], "labelExpr": "'' + datum.value",
                      "labelPadding": 12, "title": "Time (s)", "titleY": 73, "titleBaseline": "alphabetic"}},
       "y": {"field": "g", "type": "quantitative", "scale": {"domain": [-0.25, 4.0], "nice": false, "zero": false},
             "axis": {"orient": "left", "ticks": false, "labels": false,
                      "title": "Mass spec. signal (arb.u.)", "titleAngle": 270, "titleX": -14, "titleY": 229.5, "titleBaseline": "alphabetic"}},
       "color": {"datum": "overall H₂O signal", "type": "nominal",
                 "scale": {"domain": ["H₂¹⁸O (m/e=20)", "H₂¹⁶O (m/e=18)", "overall H₂O signal"], "range": ["#000000", "#ff0000", "#aaaaaa"]},
                 "legend": {"orient": "none", "legendX": 135, "legendY": 202, "title": null, "direction": "vertical", "symbolType": "stroke", "symbolSize": 3969, "symbolStrokeWidth": 1.5, "labelFontSize": 27, "labelOffset": 9, "clipHeight": 26, "rowPadding": 19, "labelLimit": 500, "padding": 0}}
     }},
    {"mark": {"type": "line", "strokeWidth": 1},
     "encoding": {
       "x": {"field": "t", "type": "quantitative", "axis": null},
       "y": {"field": "k", "type": "quantitative", "axis": null},
       "color": {"datum": "H₂¹⁸O (m/e=20)", "type": "nominal"}
     }},
    {"mark": {"type": "line", "strokeWidth": 1},
     "encoding": {
       "x": {"field": "t", "type": "quantitative", "axis": null},
       "y": {"field": "r", "type": "quantitative", "axis": null},
       "color": {"datum": "H₂¹⁶O (m/e=18)", "type": "nominal"}
     }},
    {"mark": {"type": "line", "opacity": 0},
     "encoding": {
       "x": {"field": "t", "type": "quantitative", "axis": {"orient": "top", "offset": -493, "labels": false, "title": null, "tickSize": 10, "values": [0,200,400,600]}},
       "y": {"field": "g", "type": "quantitative", "axis": {"orient": "left", "offset": -11, "labels": false, "title": null, "tickSize": 11, "values": [0, 1, 2, 3]}}
     }},
    {"mark": {"type": "line", "opacity": 0},
     "encoding": {
       "x": {"field": "t", "type": "quantitative", "axis": {"orient": "top", "offset": -493, "labels": false, "title": null, "tickSize": 5, "values": [100,300,500]}},
       "y": {"field": "g", "type": "quantitative", "axis": null}
     }},
    {"data": {"values": [{}]}, "mark": {"type": "text", "text": "b", "fontSize": 40, "fontWeight": "bold", "align": "left", "baseline": "alphabetic"},
     "encoding": {"x": {"datum": 19, "axis": null}, "y": {"datum": 3.58, "axis": null}}},
    {"data": {"values": [{}]}, "mark": {"type": "text", "text": "real-time dosing of  H₂¹⁸O at 350 K", "fontSize": 32, "align": "left", "baseline": "alphabetic"},
     "encoding": {"x": {"datum": 80.3, "axis": null}, "y": {"datum": 3.58, "axis": null}}}
  ]
},
{
  "width": 615, "height": 493,
  "data": {"name": "leis"},
  "resolve": {"axis": {"x": "independent", "y": "independent"}},
  "layer": [
    {"mark": {"type": "area", "fill": "#ff0000", "fillOpacity": 0.5, "stroke": "#ff0000", "strokeWidth": 1.5},
     "encoding": {
       "x": {"field": "E", "type": "quantitative", "scale": {"domain": [520, 680], "nice": false, "zero": false},
             "axis": {"orient": "bottom", "ticks": false, "values": [550,600,650], "labelExpr": "'' + datum.value",
                      "labelPadding": 12, "title": "Kinetic enegy (eV)", "titleY": 73, "titleBaseline": "alphabetic"}},
       "y": {"field": "f1", "type": "quantitative", "scale": {"domain": [0, 4.93], "nice": false, "zero": false},
             "axis": {"orient": "left", "ticks": false, "labels": false, "title": "LEIS signal (arb.u.)", "titleAngle": 270, "titleX": -8, "titleY": 221, "titleBaseline": "alphabetic"}},
       "y2": {"datum": 3.1}
     }},
    {"mark": {"type": "area", "fill": "#ff0000", "fillOpacity": 0.5, "stroke": "#ff0000", "strokeWidth": 1.5},
     "encoding": {"x": {"field": "E", "type": "quantitative", "axis": null}, "y": {"field": "r2", "type": "quantitative", "axis": null}, "y2": {"datum": 1.7}}},
    {"mark": {"type": "area", "fill": "#ff8000", "fillOpacity": 0.76, "stroke": "#ff7a00", "strokeWidth": 1.5},
     "encoding": {"x": {"field": "E", "type": "quantitative", "axis": null}, "y": {"field": "o2", "type": "quantitative", "axis": null}, "y2": {"datum": 1.7}}},
    {"mark": {"type": "area", "fill": "#ff0000", "fillOpacity": 0.5, "stroke": "#ff0000", "strokeWidth": 1.5},
     "encoding": {"x": {"field": "E", "type": "quantitative", "axis": null}, "y": {"field": "r3", "type": "quantitative", "axis": null}, "y2": {"datum": 0.315}}},
    {"mark": {"type": "area", "fill": "#ff8000", "fillOpacity": 0.76, "stroke": "#ff7a00", "strokeWidth": 1.5},
     "encoding": {"x": {"field": "E", "type": "quantitative", "axis": null}, "y": {"field": "o3", "type": "quantitative", "axis": null}, "y2": {"datum": 0.315}}},
    {"mark": {"type": "line", "color": "#000000", "strokeWidth": 2},
     "encoding": {"x": {"field": "E", "type": "quantitative", "axis": null}, "y": {"field": "d1", "type": "quantitative", "axis": null}}},
    {"mark": {"type": "line", "color": "#000000", "strokeWidth": 2},
     "encoding": {"x": {"field": "E", "type": "quantitative", "axis": null}, "y": {"field": "d2", "type": "quantitative", "axis": null}}},
    {"mark": {"type": "line", "color": "#000000", "strokeWidth": 2},
     "encoding": {"x": {"field": "E", "type": "quantitative", "axis": null}, "y": {"field": "d3", "type": "quantitative", "axis": null}}},
    {"mark": {"type": "line", "color": "#991111", "strokeWidth": 2},
     "encoding": {"x": {"field": "E", "type": "quantitative", "axis": null}, "y": {"field": "f1", "type": "quantitative", "axis": null}}},
    {"mark": {"type": "line", "color": "#991111", "strokeWidth": 2},
     "encoding": {"x": {"field": "E", "type": "quantitative", "axis": null}, "y": {"field": "f2", "type": "quantitative", "axis": null}}},
    {"mark": {"type": "line", "color": "#991111", "strokeWidth": 2},
     "encoding": {"x": {"field": "E", "type": "quantitative", "axis": null}, "y": {"field": "f3", "type": "quantitative", "axis": null}}},
    {"mark": {"type": "line", "opacity": 0},
     "encoding": {
       "x": {"field": "E", "type": "quantitative", "axis": {"orient": "top", "offset": -493, "labels": false, "title": null, "tickSize": 11, "values": [550,600,650]}},
       "y": {"field": "f1", "type": "quantitative", "axis": null}
     }},
    {"mark": {"type": "line", "opacity": 0},
     "encoding": {
       "x": {"field": "E", "type": "quantitative", "axis": {"orient": "top", "offset": -493, "labels": false, "title": null, "tickSize": 6, "values": [525,575,625,675]}},
       "y": {"field": "f1", "type": "quantitative", "axis": null}
     }},
    {"data": {"values": [{}]}, "mark": {"type": "text", "text": "c", "fontSize": 40, "fontWeight": "bold", "align": "left", "baseline": "alphabetic"},
     "encoding": {"x": {"datum": 523.9, "axis": null}, "y": {"datum": 4.48, "axis": null}}},
    {"data": {"values": [{}]}, "mark": {"type": "text", "text": "oxygen region of the LEIS spectra", "fontSize": 32, "align": "left", "baseline": "alphabetic"},
     "encoding": {"x": {"datum": 539.4, "axis": null}, "y": {"datum": 4.48, "axis": null}}},
    {"data": {"values": [{}]}, "mark": {"type": "text", "text": "as prepared", "fontSize": 26, "align": "left", "baseline": "alphabetic"},
     "encoding": {"x": {"datum": 526.6, "axis": null}, "y": {"datum": 3.71, "axis": null}}},
    {"data": {"values": [{}]}, "mark": {"type": "text", "text": "surface", "fontSize": 26, "align": "left", "baseline": "alphabetic"},
     "encoding": {"x": {"datum": 526.6, "axis": null}, "y": {"datum": 3.397, "axis": null}}},
    {"data": {"values": [{}]}, "mark": {"type": "text", "text": "after H₂¹⁸O exposure", "fontSize": 26, "align": "left", "baseline": "alphabetic"},
     "encoding": {"x": {"datum": 524.2, "axis": null}, "y": {"datum": 2.442, "axis": null}}},
    {"data": {"values": [{}]}, "mark": {"type": "text", "text": "at 350 K", "fontSize": 26, "align": "left", "baseline": "alphabetic"},
     "encoding": {"x": {"datum": 524.2, "axis": null}, "y": {"datum": 2.068, "axis": null}}},
    {"data": {"values": [{}]}, "mark": {"type": "text", "text": "after a single", "fontSize": 26, "align": "left", "baseline": "alphabetic"},
     "encoding": {"x": {"datum": 524.8, "axis": null}, "y": {"datum": 1.09, "axis": null}}},
    {"data": {"values": [{}]}, "mark": {"type": "text", "text": "H₂¹⁸O TPD", "fontSize": 26, "align": "left", "baseline": "alphabetic"},
     "encoding": {"x": {"datum": 524.8, "axis": null}, "y": {"datum": 0.74, "axis": null}}},
    {"data": {"values": [{}]}, "mark": {"type": "text", "text": "16", "fontSize": 28, "fontWeight": "bold", "align": "left", "baseline": "alphabetic"},
     "encoding": {"x": {"datum": 581.7, "axis": null}, "y": {"datum": 3.581, "axis": null}}},
    {"data": {"values": [{}]}, "mark": {"type": "text", "text": "O", "fontSize": 45, "fontWeight": "bold", "align": "left", "baseline": "alphabetic"},
     "encoding": {"x": {"datum": 589.3, "axis": null}, "y": {"datum": 3.471, "axis": null}}},
    {"data": {"values": [{}]}, "mark": {"type": "text", "text": "18", "fontSize": 28, "fontWeight": "bold", "align": "left", "baseline": "alphabetic"},
     "encoding": {"x": {"datum": 610.9, "axis": null}, "y": {"datum": 2.70, "axis": null}}},
    {"data": {"values": [{}]}, "mark": {"type": "text", "text": "O", "fontSize": 45, "fontWeight": "bold", "align": "left", "baseline": "alphabetic"},
     "encoding": {"x": {"datum": 618.4, "axis": null}, "y": {"datum": 2.571, "axis": null}}}
  ]
}
]
}
